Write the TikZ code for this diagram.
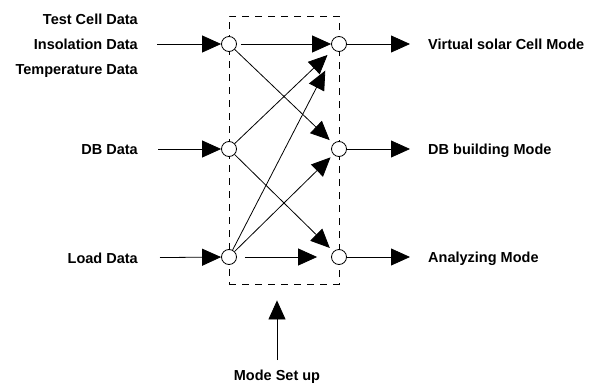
\documentclass[tikz,border=0pt]{standalone}
\usepackage{fontspec}
\setmainfont{Liberation Sans}
\usetikzlibrary{arrows.meta}
\tikzset{
	port/.style={circle, draw, fill=white, line width=0.8pt, minimum size=15pt, inner sep=0pt},
	flow/.style={line width=0.8pt, -{Triangle[length=19pt,width=17pt]}},
	modebox/.style={draw, line width=0.8pt, dash pattern=on 7pt off 6pt, minimum width=110pt, minimum height=268pt, inner sep=0pt},
	lbl/.style={inner sep=0pt, text height=10.5pt, text depth=0pt, font=\fontsize{14.5}{17}\selectfont\bfseries},
	inlbl/.style={lbl, anchor=east},
	outlbl/.style={lbl, anchor=west}
}

\begin{document}
\begin{tikzpicture}[x=1pt, y=-1pt]
			%%%%% START %%%%%
			\useasboundingbox (0, 0) rectangle (594, 388);
			
			\node[modebox] (box) at (284, 150) {};
			
			\node[port] (in1) at (229, 44) {};
			\node[port] (in2) at (229, 149) {};
			\node[port] (in3) at (229, 257) {};
			\node[port] (out1) at (339, 44) {};
			\node[port] (out2) at (339, 149) {};
			\node[port] (out3) at (339, 257) {};
			
			\node[inlbl] (test) at (138, 19) {Test Cell Data};
			\node[inlbl] (insol) at (138, 44) {Insolation Data};
			\node[inlbl] (temp) at (138, 69) {Temperature Data};
			\node[inlbl] (dbdata) at (138, 149) {DB Data};
			\node[inlbl] (load) at (138, 258) {Load Data};
			
			\node[outlbl] (virt) at (428, 44) {Virtual solar Cell Mode};
			\node[outlbl] (dbmode) at (428, 149) {DB building Mode};
			\node[outlbl] (anal) at (428, 257) {Analyzing Mode};
			
			\node[lbl, anchor=north] (setup) at (277, 370) {Mode Set up};
			
			\draw[flow, shorten <=19pt] (insol) -- (in1);
			\draw[flow, shorten <=20pt] (dbdata) -- (in2);
			\draw[flow, shorten <=22pt] (load) -- (in3);
			
			\draw[flow, shorten <=4pt] (in1) -- (out1);
			\draw[flow, shorten >=5pt] (in1) -- (out2);
			\draw[flow, shorten >=8pt] (in2) -- (out1);
			\draw[flow, shorten >=5pt] (in2) -- (out3);
			\draw[flow, shorten >=22pt] (in3) -- (out1);
			\draw[flow, shorten >=4pt] (in3) -- (out2);
			\draw[flow, shorten <=8pt, shorten >=14pt] (in3) -- (out3);
			
			\draw[flow, shorten >=18pt] (out1) -- (virt);
			\draw[flow, shorten >=18pt] (out2) -- (dbmode);
			\draw[flow, shorten >=18pt] (out3) -- (anal);
			
			\draw[flow, shorten <=10pt, shorten >=16pt] (setup.north) -- (setup.north |- box.south);
			%%%%% END %%%%%
\end{tikzpicture}
\end{document}
